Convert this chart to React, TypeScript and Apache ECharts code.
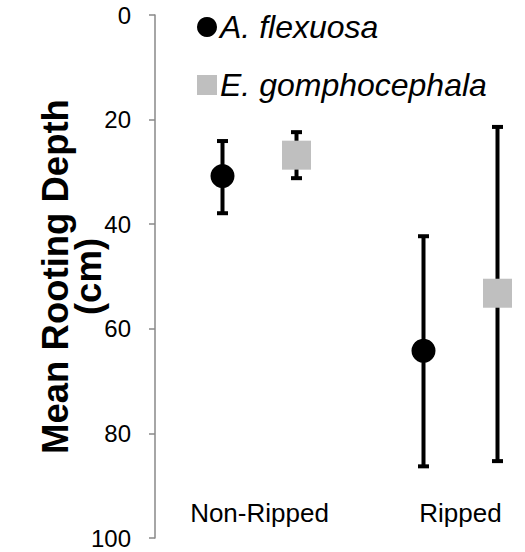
import React, { useEffect, useRef } from "react";
import * as echarts from "echarts";

const categories = ["Non-Ripped", "Ripped"];
const seriesNames = ["A. flexuosa", "E. gomphocephala"];
const meanFlexuosa = [30.8, 64.2];
const lowFlexuosa = [24.1, 42.3];
const highFlexuosa = [37.9, 86.3];
const meanGompho = [26.8, 53.2];
const lowGompho = [22.4, 21.4];
const highGompho = [31.2, 85.3];
const yMin = 0;
const yMax = 100;
const yStep = 20;

const FONT = "'Liberation Sans', Arial, sans-serif";
const DODGE = 37;

function errorSeries(name: string, low: number[], high: number[], dx: number) {
  return {
    type: "custom",
    name: name + " error",
    z: 2,
    silent: true,
    data: categories.map((_, i) => [i, low[i], high[i]]),
    renderItem: (params: any, api: any) => {
      const i = api.value(0);
      const a = api.coord([i, api.value(1)]);
      const b = api.coord([i, api.value(2)]);
      const x = a[0] + dx;
      const cap = 5.5;
      const st = { stroke: "#000", lineWidth: 4 };
      return {
        type: "group",
        children: [
          { type: "line", shape: { x1: x, y1: a[1], x2: x, y2: b[1] }, style: st },
          { type: "line", shape: { x1: x - cap, y1: a[1], x2: x + cap, y2: a[1] }, style: st },
          { type: "line", shape: { x1: x - cap, y1: b[1], x2: x + cap, y2: b[1] }, style: st },
        ],
      };
    },
  };
}

export default function App() {
  const ref = useRef<HTMLDivElement>(null);
  useEffect(() => {
    if (!ref.current) return;
    const chart = echarts.init(ref.current, null, { renderer: "svg" });
    chart.setOption({
      animation: false,
      backgroundColor: "#fff",
      textStyle: { fontFamily: FONT },
      grid: { left: 159, top: 15, bottom: 14, width: 402, containLabel: false, outerBoundsMode: "none" },
      legend: {
        orient: "vertical",
        left: 197,
        top: 11,
        padding: 0,
        itemWidth: 20,
        itemHeight: 20,
        itemGap: 26,
        textStyle: { fontSize: 32, fontStyle: "italic", color: "#000", fontFamily: FONT, lineHeight: 32, padding: [0, 0, 0, -2] },
        data: [
          { name: seriesNames[0], icon: "circle" },
          { name: seriesNames[1], icon: "rect" },
        ],
      },
      xAxis: {
        type: "category",
        data: categories,
        axisLine: { show: false },
        axisTick: { show: false },
        axisLabel: { fontSize: 26, color: "#000", margin: -38, fontFamily: FONT },
      },
      yAxis: {
        type: "value",
        inverse: true,
        min: yMin,
        max: yMax,
        interval: yStep,
        offset: 4,
        splitLine: { show: false },
        axisLine: { show: true, lineStyle: { color: "#888", width: 1.5 } },
        axisTick: { show: true, length: 6, lineStyle: { color: "#888", width: 1.5 } },
        axisLabel: { fontSize: 24, color: "#000", margin: 24, fontFamily: FONT },
        name: "Mean Rooting Depth\n(cm)",
        nameLocation: "middle",
        nameRotate: 90,
        nameGap: 50,
        nameMoveOverlap: false,
        nameTextStyle: { fontSize: 36.5, fontWeight: "bold", color: "#000", fontFamily: FONT, lineHeight: 33 },
      },
      series: [
        errorSeries(seriesNames[0], lowFlexuosa, highFlexuosa, -DODGE),
        errorSeries(seriesNames[1], lowGompho, highGompho, DODGE),
        {
          type: "scatter",
          name: seriesNames[0],
          z: 3,
          symbol: "circle",
          symbolSize: 24,
          symbolOffset: [-DODGE, 0],
          itemStyle: { color: "#000", opacity: 1 },
          data: meanFlexuosa,
        },
        {
          type: "scatter",
          name: seriesNames[1],
          z: 3,
          symbol: "rect",
          symbolSize: 29,
          symbolOffset: [DODGE, 0],
          itemStyle: { color: "#BFBFBF", opacity: 1 },
          data: meanGompho,
        },
      ],
    });
    return () => chart.dispose();
  }, []);
  return <div ref={ref} style={{ position: "absolute", left: 0, top: 0, width: 525, height: 552 }} />;
}
